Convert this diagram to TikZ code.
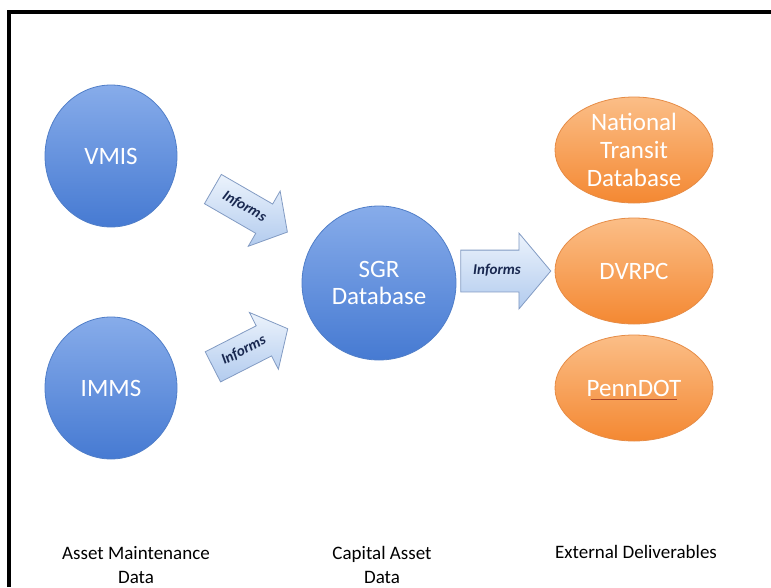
\documentclass[tikz,border=0pt]{standalone}
\usepackage{fontspec}
\setmainfont{Carlito}
\usetikzlibrary{shapes.geometric,shapes.arrows}
\definecolor{bluetop}{RGB}{135,172,234}
\definecolor{bluebot}{RGB}{70,122,210}
\definecolor{blueedge}{RGB}{80,126,200}
\definecolor{orgtop}{RGB}{251,190,135}
\definecolor{orgbot}{RGB}{244,136,50}
\definecolor{orgedge}{RGB}{230,140,70}
\definecolor{arrtop}{RGB}{236,243,252}
\definecolor{arrbot}{RGB}{178,203,238}
\definecolor{arredge}{RGB}{130,155,195}
\definecolor{informcol}{RGB}{25,40,80}
\definecolor{ulcol}{RGB}{170,70,40}
\tikzset{
  bluecirc/.style={ellipse, draw=blueedge, line width=0.8pt, top color=bluetop, bottom color=bluebot,
    minimum width=132pt, minimum height=142pt, inner sep=0pt, text=white, font=\fontsize{25}{27}\selectfont, align=center},
  orgell/.style={ellipse, draw=orgedge, line width=0.8pt, top color=orgtop, bottom color=orgbot,
    minimum width=158pt, minimum height=106pt, inner sep=0pt, text=white, font=\fontsize{25}{28}\selectfont, align=center},
  blockarrow/.style={single arrow, draw=arredge, line width=0.8pt, top color=arrtop, bottom color=arrbot,
    text=informcol, font=\fontsize{15}{15}\selectfont\bfseries\itshape, text height=11pt, text depth=4pt,
    single arrow tip angle=100, inner xsep=4pt},
  caption/.style={font=\fontsize{19}{24}\selectfont, align=center, text=black},
  frameline/.style={line width=4pt, black}
}
\begin{document}
\begin{tikzpicture}[x=1pt,y=-1pt]
\useasboundingbox (0,0) rectangle (771,587);
\coordinate (fTL) at (9,12);
\coordinate (fTR) at (771,12);
\coordinate (fBL) at (9,587);
\draw[frameline] (fBL) -- (fTL) -- (fTR);

\node[bluecirc] (vmis) at (111,156) {VMIS};
\node[bluecirc] (imms) at (111,388) {IMMS};
\node[bluecirc, minimum width=154pt, minimum height=154pt] (sgr) at (379,283) {SGR\\Database};

\node[orgell] (ntd) at (634,150) {National\\Transit\\Database};
\node[orgell] (dvrpc) at (634,271) {DVRPC};
\node[orgell] (penn) at (634,388) {PennDOT};
\draw[ulcol, line width=1pt] ([xshift=-43pt,yshift=-3pt]penn.base) -- ([xshift=43pt,yshift=-3pt]penn.base);

\node[blockarrow, rotate=-30, inner ysep=9pt, single arrow head extend=15pt, minimum height=86pt] (a1) at (244,207) {Informs};
\node[blockarrow, rotate=27, inner ysep=9pt, single arrow head extend=15pt, minimum height=84pt] (a2) at (244,351) {Informs};
\node[blockarrow, inner ysep=13pt, single arrow head extend=17pt, minimum height=90pt] (a3) at (497,271) {Informs};

\node[caption] (c1) at (136,565) {Asset Maintenance\\Data};
\node[caption] (c2) at (382,565) {Capital Asset\\Data};
\node[caption, anchor=north] (c3) at (636,542) {External Deliverables};
\end{tikzpicture}
\end{document}
